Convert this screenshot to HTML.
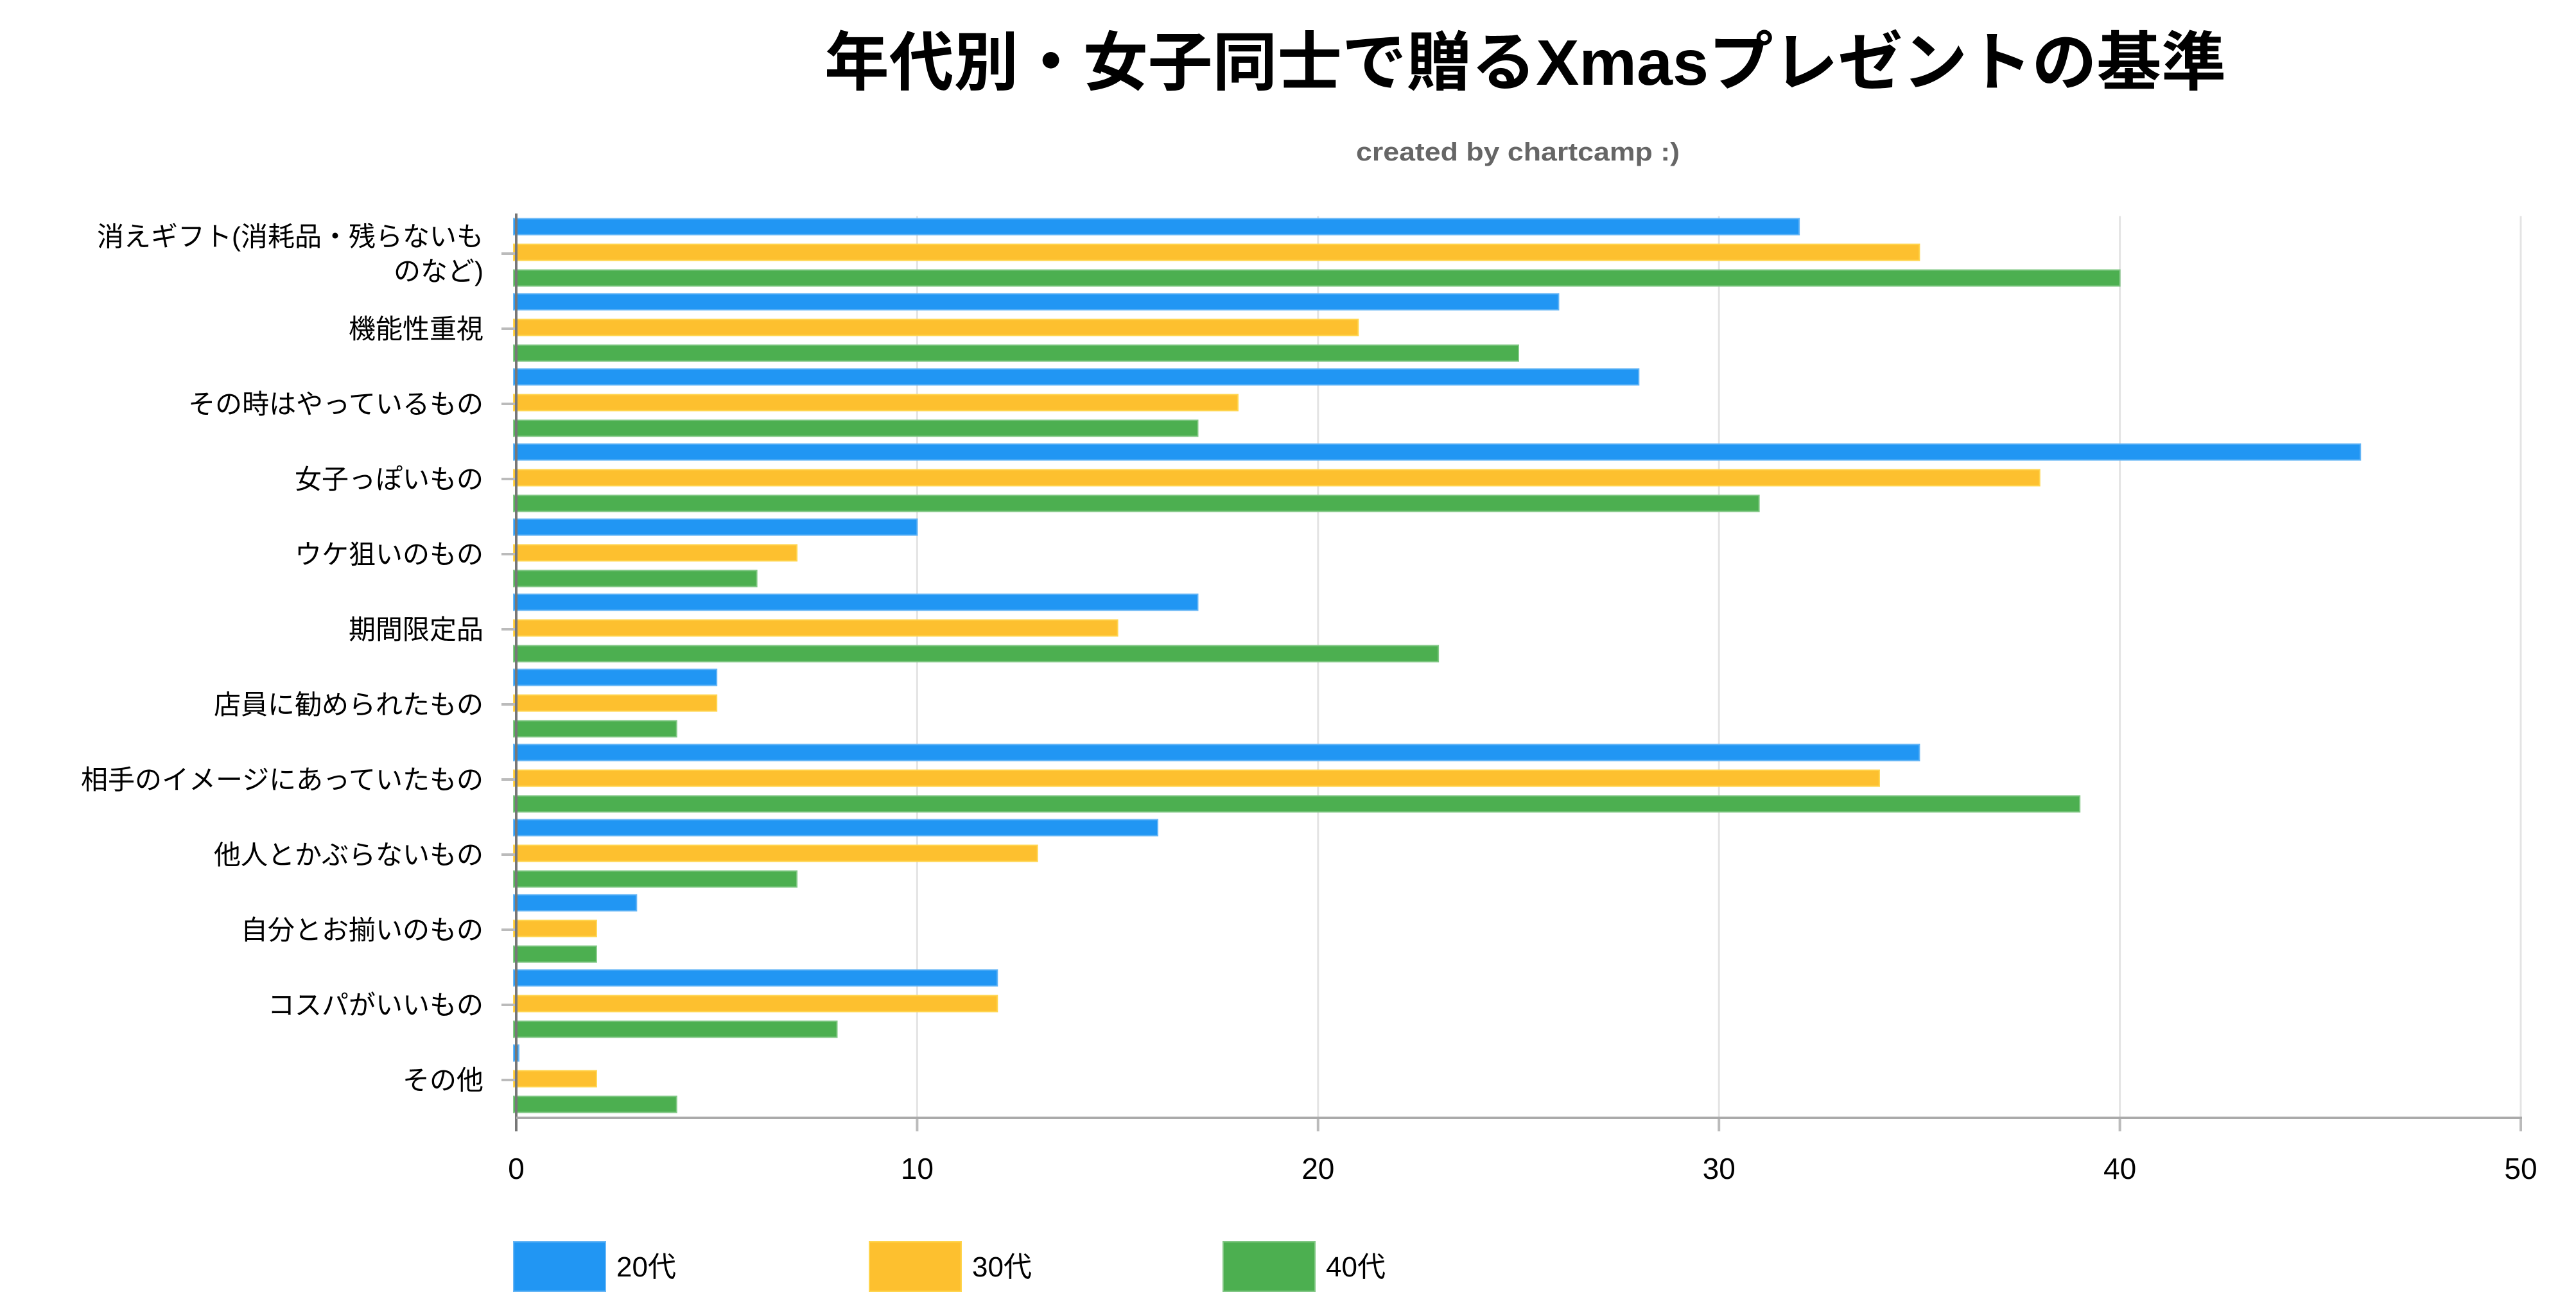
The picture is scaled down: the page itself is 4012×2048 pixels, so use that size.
<!DOCTYPE html>
<html><head><meta charset="utf-8">
<style>
html,body{margin:0;padding:0;background:#fff;}
svg{display:block;font-family:"Liberation Sans","Noto Sans CJK JP",sans-serif;}
</style></head>
<body>
<svg id="chart" width="4012" height="2048" viewBox="0 0 4012 2048" xmlns="http://www.w3.org/2000/svg">
  <rect width="4012" height="2048" fill="#fff"/>
  <text x="1284" y="132" font-size="100" font-weight="bold" fill="#000" textLength="2183" lengthAdjust="spacingAndGlyphs">年代別・女子同士で贈るXmasプレゼントの基準</text>
  <text x="2112" y="250" font-size="40" font-weight="bold" fill="#666" textLength="504" lengthAdjust="spacingAndGlyphs">created by chartcamp :)</text>
  <g id="grid"></g>
  <g id="bars"></g>
  <g id="axes"></g>
  <g id="legend"></g>
</svg>
<script>
const categories = [
  ["消えギフト(消耗品・残らないも","のなど)"],
  ["機能性重視"],
  ["その時はやっているもの"],
  ["女子っぽいもの"],
  ["ウケ狙いのもの"],
  ["期間限定品"],
  ["店員に勧められたもの"],
  ["相手のイメージにあっていたもの"],
  ["他人とかぶらないもの"],
  ["自分とお揃いのもの"],
  ["コスパがいいもの"],
  ["その他"]
];
const seriesNames = ["20代","30代","40代"];
const values20 = [32,26,28,46,10,17,5,35,16,3,12,0];
const values30 = [35,21,18,38,7,15,5,34,13,2,12,2];
const values40 = [40,25,17,31,6,23,4,39,7,2,8,4];
const xTicks = [0,10,20,30,40,50];

const NS = "http://www.w3.org/2000/svg";
const colors = ["#2196F3","#FDC02F","#4CAF50"];
const strokes = ["#64B5F6","#FFD54F","#81C784"];
const X0 = 804, X1 = 3926, XMAX = 50;
const PT = 336.5, BAND = 117;
function xs(v){ return X0 + (X1 - X0) * v / XMAX; }
function ys(i){ return PT + BAND * i; }
function mk(tag, attrs, parent){
  const el = document.createElementNS(NS, tag);
  for (const k in attrs) el.setAttribute(k, attrs[k]);
  parent.appendChild(el);
  return el;
}
const grid = document.getElementById('grid');
const bars = document.getElementById('bars');
const axes = document.getElementById('axes');
const legend = document.getElementById('legend');

xTicks.forEach(t => {
  if (t > 0) {
    const g = mk('line', {x1: xs(t), x2: xs(t), y1: PT, y2: PT + BAND*categories.length, stroke: '#e4e4e4', 'stroke-width': 3}, grid);
    
    
  }
  const tk = mk('line', {x1: xs(t), x2: xs(t), y1: 1741, y2: 1762, stroke: '#bbb', 'stroke-width': 4}, axes);
  
  
  const lb = mk('text', {x: xs(t), y: 1836, 'font-size': 46, 'text-anchor': 'middle', fill: '#000'}, axes);
  lb.textContent = t;
  
  
});

const all = [values20, values30, values40];
categories.forEach((lines, i) => {
  const top = ys(i);
  all.forEach((vals, s) => {
    const w = Math.max(xs(vals[i]) - 800, 8);
    const r = mk('rect', {x: 800, y: top + 4 + 40*s, width: w, height: 25, fill: colors[s], stroke: strokes[s], 'stroke-width': 2}, bars);
    
    
  });
  const cy = top + BAND/2;
  const tk = mk('line', {x1: 781, x2: 804, y1: cy, y2: cy, stroke: '#bbb', 'stroke-width': 4}, axes);
  
  
  const lh = 54;
  const startY = cy - (lines.length - 1) * lh / 2 + 15;
  lines.forEach((ln, j) => {
    const t = mk('text', {x: 753, y: startY + j*lh, 'font-size': 42, 'text-anchor': 'end', fill: '#000'}, axes);
    t.textContent = ln;
    
    
  });
});
const ya = mk('line', {x1: 804, x2: 804, y1: PT - 4, y2: 1762, stroke: '#777', 'stroke-width': 4}, axes);


const xa = mk('line', {x1: 804, x2: 3928, y1: 1741, y2: 1741, stroke: '#aaa', 'stroke-width': 4}, axes);



const legX = [800, 1354, 1905];
seriesNames.forEach((n, s) => {
  const r = mk('rect', {x: legX[s], y: 1934, width: 143, height: 77, fill: colors[s], stroke: strokes[s], 'stroke-width': 2}, legend);
  
  
  const t = mk('text', {x: legX[s] + 160, y: 1988, 'font-size': 44, fill: '#000'}, legend);
  t.textContent = n;
  
  
});
</script>
</body></html>
